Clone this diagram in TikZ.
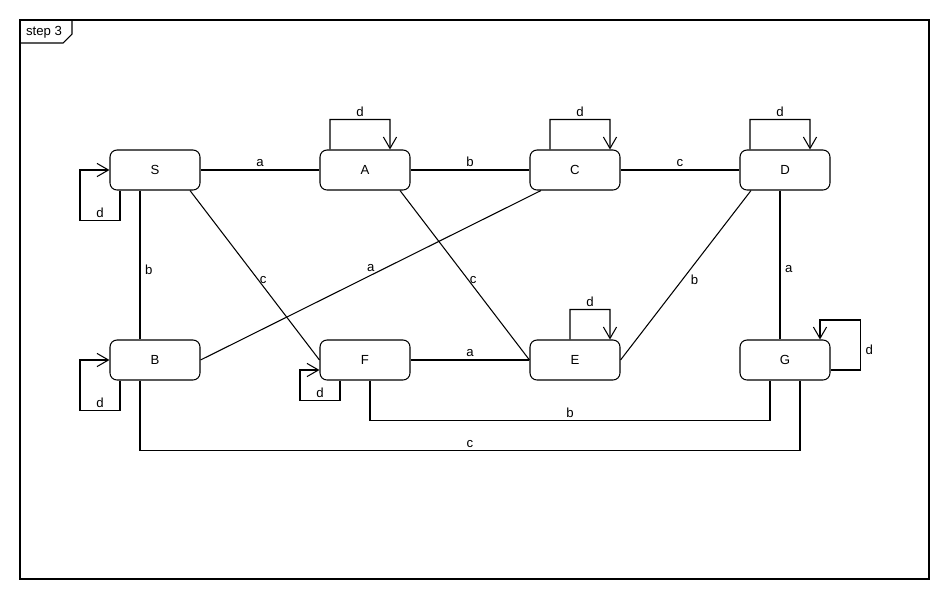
\documentclass[tikz,border=0pt]{standalone}
\usepackage{fontspec}
\setmainfont{Liberation Sans}
\usetikzlibrary{arrows.meta}
\tikzset{state_box/.style={draw=black, line width=0.6pt, rounded corners=0.14cm, minimum width=1.8cm, minimum height=0.8cm, inner sep=0pt}}
\tikzset{trans_line/.style={draw=black, line width=0.6pt}}
\tikzset{self_loop/.style={trans_line, -{Straight Barb[length=6.5pt, width=7.5pt, line width=0.6pt]}}}
\tikzset{trans_label/.style={inner sep=1.5pt}}
\tikzset{side_label/.style={trans_label, right, xshift=0.04cm, yshift=-0.09cm}}
\begin{document}
\begin{tikzpicture}[x=0.02cm, y=-0.02cm, font=\fontsize{7.5}{9}\selectfont]
    \useasboundingbox (0,0) rectangle (950,600);
    \draw[trans_line] (20,20) rectangle (929,579);
    \draw[trans_line] (20,43) -- (63,43) -- (72,34) -- (72,20);
    \node[trans_label] (frame_title) at (44,32) {step 3};
    \foreach \n/\x in {S/155,A/365,C/575,D/785} \node[state_box] (\n) at (\x,170) {\n};
    \foreach \n/\x in {B/155,F/365,E/575,G/785} \node[state_box] (\n) at (\x,360) {\n};
    \draw[trans_line] (S.east) -- node[trans_label, above]{a} (A.west);
    \draw[trans_line] (A.east) -- node[trans_label, above]{b} (C.west);
    \draw[trans_line] (C.east) -- node[trans_label, above]{c} (D.west);
    \draw[trans_line] (F.east) -- node[trans_label, above]{a} (E.west);
    \draw[trans_line] ([xshift=-0.3cm]S.south) -- node[side_label]{b} ([xshift=-0.3cm]B.north);
    \draw[trans_line] ([xshift=-0.1cm]D.south) -- node[side_label]{a} ([xshift=-0.1cm]G.north);
    \draw[trans_line] ([xshift=0.7cm]S.south) -- node[side_label]{c} (F.west);
    \draw[trans_line] ([xshift=0.7cm]A.south) -- node[side_label]{c} (E.west);
    \draw[trans_line] ([xshift=-0.68cm]D.south) -- node[side_label]{b} (E.east);
    \draw[trans_line] ([xshift=-0.68cm]C.south) -- node[trans_label, above]{a} (B.east);
    \draw[trans_line] ([xshift=0.1cm]F.south) -- ++(0,40) -| node[trans_label, pos=0.25, above]{b} ([xshift=-0.3cm]G.south);
    \draw[trans_line] ([xshift=-0.3cm]B.south) -- ++(0,70) -| node[trans_label, pos=0.25, above]{c} ([xshift=0.3cm]G.south);
    \draw[self_loop] ([xshift=-0.7cm]S.south) |- node[trans_label, pos=0.75, above]{d} ++(-40,30) |- (S.west);
    \draw[self_loop] ([xshift=-0.7cm]B.south) |- node[trans_label, pos=0.75, above]{d} ++(-40,30) |- (B.west);
    \draw[self_loop] ([xshift=-0.5cm]F.south) |- node[trans_label, pos=0.75, above]{d} ++(-40,20) |- ([yshift=-0.2cm]F.west);
    \draw[self_loop] ([xshift=-0.7cm]A.north) |- node[trans_label, pos=0.75, above]{d} ++(60,-30) -- ([xshift=0.5cm]A.north);
    \draw[self_loop] ([xshift=-0.5cm]C.north) |- node[trans_label, pos=0.75, above]{d} ++(60,-30) -- ([xshift=0.7cm]C.north);
    \draw[self_loop] ([xshift=-0.7cm]D.north) |- node[trans_label, pos=0.75, above]{d} ++(60,-30) -- ([xshift=0.5cm]D.north);
    \draw[self_loop] ([xshift=-0.1cm]E.north) |- node[trans_label, pos=0.75, above]{d} ++(40,-30) -- ([xshift=0.7cm]E.north);
    \draw[self_loop] ([yshift=-0.2cm]G.east) -| node[side_label, pos=0.75]{d} ++(30,-50) -| ([xshift=0.7cm]G.north);
\end{tikzpicture}
\end{document}
